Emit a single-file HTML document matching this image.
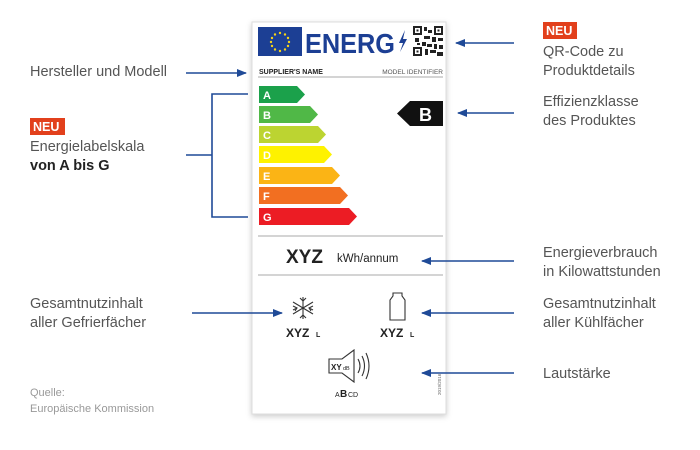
<!DOCTYPE html>
<html><head><meta charset="utf-8"><style>
body{margin:0;background:#fff;}
svg{display:block;font-family:"Liberation Sans",sans-serif;}
.t{font-size:14.5px;fill:#555;}
</style></head><body>
<svg width="700" height="450" viewBox="0 0 700 450">
<defs>
<marker id="ah" markerWidth="10" markerHeight="8" refX="9" refY="4" orient="auto" markerUnits="userSpaceOnUse">
<path d="M0,0 L10,4 L0,8 Z" fill="#1f4a97"/></marker>
<filter id="sh" x="-10%" y="-10%" width="120%" height="120%"><feDropShadow dx="0" dy="2" stdDeviation="3" flood-color="#000" flood-opacity="0.2"/></filter>
</defs>
<rect x="252" y="22" width="194" height="392" fill="#fff" stroke="#ddd" filter="url(#sh)"/>
<rect x="258" y="27" width="44" height="29" fill="#1c3f94"/>
<g fill="#f4d21a">
<circle cx="280" cy="33" r="1.2"/><circle cx="285" cy="34.5" r="1.2"/><circle cx="288" cy="38" r="1.2"/><circle cx="289" cy="42" r="1.2"/><circle cx="288" cy="46" r="1.2"/><circle cx="285" cy="49.5" r="1.2"/><circle cx="280" cy="51" r="1.2"/><circle cx="275" cy="49.5" r="1.2"/><circle cx="272" cy="46" r="1.2"/><circle cx="271" cy="42" r="1.2"/><circle cx="272" cy="38" r="1.2"/><circle cx="275" cy="34.5" r="1.2"/></g>
<text x="305" y="53" font-size="28" font-weight="bold" fill="#1c3f94" textLength="90" lengthAdjust="spacingAndGlyphs">ENERG</text>
<path d="M405,30 L399,43 L403,43 L400,52 L407,39 L403,39 Z" fill="#1c3f94"/>
<rect x="413" y="26" width="30" height="30" fill="#fff"/>
<g fill="#222">
<rect x="413" y="26" width="9" height="9"/><rect x="434" y="26" width="9" height="9"/><rect x="413" y="47" width="9" height="9"/>
<rect x="424" y="27" width="3" height="4"/><rect x="428" y="30" width="4" height="3"/><rect x="424" y="36" width="6" height="3"/><rect x="415" y="38" width="4" height="4"/><rect x="432" y="37" width="4" height="5"/><rect x="438" y="38" width="5" height="3"/><rect x="422" y="42" width="4" height="4"/><rect x="427" y="44" width="5" height="3"/><rect x="434" y="44" width="3" height="5"/><rect x="439" y="45" width="4" height="4"/><rect x="425" y="49" width="3" height="6"/><rect x="430" y="50" width="6" height="3"/><rect x="437" y="52" width="6" height="4"/><rect x="417" y="43" width="3" height="2"/></g>
<g fill="#fff"><rect x="415" y="28" width="5" height="5"/><rect x="436" y="28" width="5" height="5"/><rect x="415" y="49" width="5" height="5"/></g>
<g fill="#222"><rect x="416.5" y="29.5" width="2" height="2"/><rect x="437.5" y="29.5" width="2" height="2"/><rect x="416.5" y="50.5" width="2" height="2"/></g>
<text x="259" y="74" font-size="7" font-weight="bold" fill="#222">SUPPLIER'S NAME</text>
<text x="443" y="74" font-size="6.5" fill="#555" text-anchor="end">MODEL IDENTIFIER</text>
<line x1="258" y1="77" x2="443" y2="77" stroke="#aaa" stroke-width="1"/>
<g font-size="11" font-weight="bold" fill="#fff">
<path d="M259,86 H297 L305,94.5 L297,103 H259Z" fill="#1ba14b"/><text x="263" y="99">A</text>
<path d="M259,106 H310 L318,114.5 L310,123 H259Z" fill="#50b847"/><text x="263" y="119">B</text>
<path d="M259,126 H318 L326,134.5 L318,143 H259Z" fill="#bcd431"/><text x="263" y="139">C</text>
<path d="M259,146 H324 L332,154.5 L324,163 H259Z" fill="#fef200"/><text x="263" y="159">D</text>
<path d="M259,167 H332 L340,175.5 L332,184 H259Z" fill="#fbb415"/><text x="263" y="180">E</text>
<path d="M259,187 H340 L348,195.5 L340,204 H259Z" fill="#f26f21"/><text x="263" y="200">F</text>
<path d="M259,208 H349 L357,216.5 L349,225 H259Z" fill="#ec1c24"/><text x="263" y="221">G</text>
</g>
<path d="M397,113.5 L410,101 H443 V126 H410Z" fill="#111"/>
<text x="419" y="121" font-size="18" font-weight="bold" fill="#fff">B</text>
<line x1="258" y1="236" x2="443" y2="236" stroke="#aaa"/>
<line x1="258" y1="275" x2="443" y2="275" stroke="#aaa"/>
<text x="286" y="263" font-size="19" font-weight="bold" fill="#222">XYZ</text>
<text x="337" y="262" font-size="11.5" fill="#222">kWh/annum</text>
<g stroke="#333" stroke-width="1.1" fill="none">
<line x1="303" y1="297" x2="303" y2="319"/><line x1="293" y1="302" x2="313" y2="314"/><line x1="293" y1="314" x2="313" y2="302"/>
<path d="M300,298 L303,301 L306,298 M300,318 L303,315 L306,318 M293,306 L297,308 L295,311 M313,306 L309,308 L311,311 M293,310 L297,308 M313,310 L309,308"/>
<path d="M393,293 H402 V296 L405,300 V320 H390 V300 L393,296 Z"/>
<path d="M329,359 H342 L354,350 V382 L342,373 H329 Z"/>
<path d="M358,359 Q362,366 358,373 M362,356 Q367,366 362,376 M366,353 Q372,366 366,379"/>
</g>
<g fill="#222" font-weight="bold">
<text x="286" y="337" font-size="12">XYZ</text><text x="316" y="337" font-size="7">L</text>
<text x="380" y="337" font-size="12">XYZ</text><text x="410" y="337" font-size="7">L</text>
<text x="331" y="370" font-size="8">XY</text><text x="343" y="370" font-size="5.5" font-weight="normal">dB</text>
<text x="335" y="397" font-size="7" font-weight="normal">A</text><text x="340" y="397" font-size="10">B</text><text x="348" y="397" font-size="7" font-weight="normal">CD</text>
</g>
<text x="0" y="0" font-size="4.5" fill="#666" transform="translate(441,395) rotate(-90)">2019/2016</text>
<g stroke="#1f4a97" stroke-width="1.6" fill="none">
<line x1="186" y1="73" x2="246" y2="73" marker-end="url(#ah)"/>
<path d="M186,155 H212 M248,94 H212 V217 H248"/>
<line x1="514" y1="43" x2="456" y2="43" marker-end="url(#ah)"/>
<line x1="514" y1="113" x2="458" y2="113" marker-end="url(#ah)"/>
<line x1="514" y1="261" x2="422" y2="261" marker-end="url(#ah)"/>
<line x1="514" y1="313" x2="422" y2="313" marker-end="url(#ah)"/>
<line x1="514" y1="373" x2="422" y2="373" marker-end="url(#ah)"/>
<line x1="192" y1="313" x2="282" y2="313" marker-end="url(#ah)"/>
</g>
<text class="t" x="30" y="76">Hersteller und Modell</text>
<rect x="30" y="118" width="35" height="17" fill="#e2401c"/>
<text x="33" y="131" font-size="12.5" font-weight="bold" fill="#fff">NEU</text>
<text class="t" x="30" y="151">Energielabelskala</text>
<text x="30" y="170" font-size="14.5" font-weight="bold" fill="#222">von A bis G</text>
<text class="t" x="30" y="308">Gesamtnutzinhalt</text>
<text class="t" x="30" y="327">aller Gefrierfächer</text>
<text x="30" y="396" font-size="11" fill="#999">Quelle:</text>
<text x="30" y="412" font-size="11" fill="#999">Europäische Kommission</text>
<rect x="543" y="22" width="34" height="17" fill="#e2401c"/>
<text x="546" y="35" font-size="12.5" font-weight="bold" fill="#fff">NEU</text>
<text class="t" x="543" y="56">QR-Code zu</text>
<text class="t" x="543" y="75">Produktdetails</text>
<text class="t" x="543" y="106">Effizienzklasse</text>
<text class="t" x="543" y="125">des Produktes</text>
<text class="t" x="543" y="257">Energieverbrauch</text>
<text class="t" x="543" y="276">in Kilowattstunden</text>
<text class="t" x="543" y="308">Gesamtnutzinhalt</text>
<text class="t" x="543" y="327">aller Kühlfächer</text>
<text class="t" x="543" y="378">Lautstärke</text>
</svg>
</body></html>
